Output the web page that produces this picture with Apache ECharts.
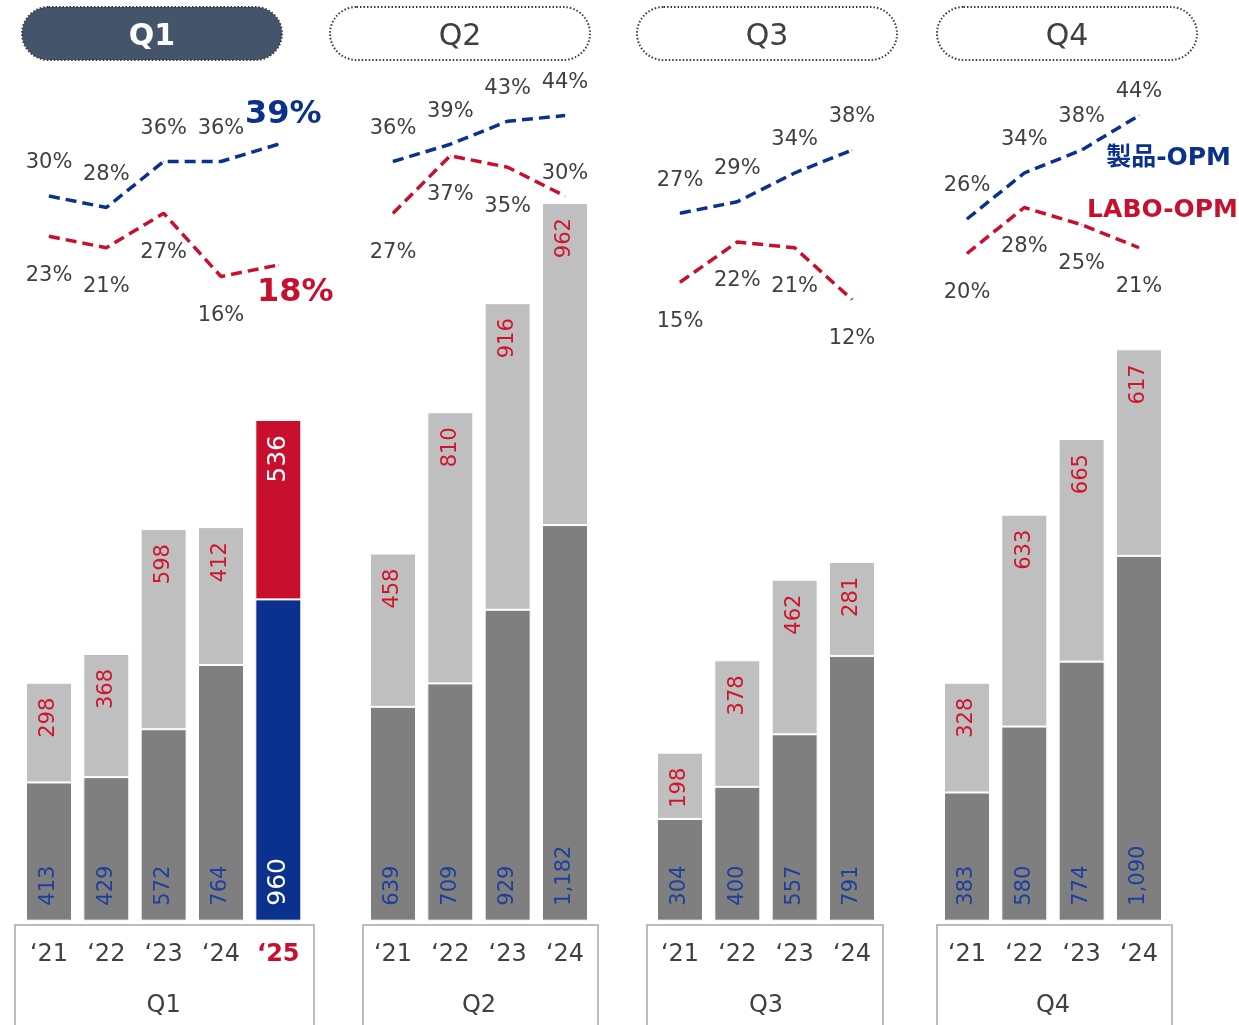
<!DOCTYPE html>
<html>
<head>
<meta charset="utf-8">
<script src="https://cdn.jsdelivr.net/npm/echarts@6/dist/echarts.min.js"></script>
<style>
html,body{margin:0;padding:0;background:#fff;}
#chart{width:1239px;height:1025px;}
</style>
</head>
<body>
<div id="chart"></div>
<script>
// ---------- data ----------
const quarters = ['Q1', 'Q2', 'Q3', 'Q4'];
const yearsQ1 = ['‘21', '‘22', '‘23', '‘24', '‘25'];
const yearsQ2 = ['‘21', '‘22', '‘23', '‘24'];
const yearsQ3 = ['‘21', '‘22', '‘23', '‘24'];
const yearsQ4 = ['‘21', '‘22', '‘23', '‘24'];
const highlightYear = '‘25';

const productQ1 = [413, 429, 572, 764, 960];
const productQ2 = [639, 709, 929, 1182];
const productQ3 = [304, 400, 557, 791];
const productQ4 = [383, 580, 774, 1090];

const laboQ1 = [298, 368, 598, 412, 536];
const laboQ2 = [458, 810, 916, 962];
const laboQ3 = [198, 378, 462, 281];
const laboQ4 = [328, 633, 665, 617];

const productOpmQ1 = [30, 28, 36, 36, 39];
const productOpmQ2 = [36, 39, 43, 44];
const productOpmQ3 = [27, 29, 34, 38];
const productOpmQ4 = [26, 34, 38, 44];

const laboOpmQ1 = [23, 21, 27, 16, 18];
const laboOpmQ2 = [27, 37, 35, 30];
const laboOpmQ3 = [15, 22, 21, 12];
const laboOpmQ4 = [20, 28, 25, 21];

const productName = '製品-OPM';
const laboName = 'LABO-OPM';

// ---------- layout / style ----------
const FONT = "'DejaVu Sans','Noto Sans CJK JP',sans-serif";
const C_DARK = '#7f7f7f', C_LIGHT = '#bfbfbf';
const C_BLUE = '#0b318f', C_RED = '#c8102e';
const C_BLUE_TXT = '#1d3f9e', C_RED_TXT = '#d0142c';
const C_TEXT = '#404040';
const slot = 57.33;
const panelLeft = [20.33, 364.33, 651.33, 938.33];
const boxX = [[15, 314], [363, 598], [647, 883], [937, 1172]];
const pillX = [21, 329, 636, 936];
const labelTweaks = {
  'Q4-p-3': { distance: 13 },
  'Q2-l-3': { position: 'top', distance: 11 }
};

const years = [yearsQ1, yearsQ2, yearsQ3, yearsQ4];
const product = [productQ1, productQ2, productQ3, productQ4];
const labo = [laboQ1, laboQ2, laboQ3, laboQ4];
const productOpm = [productOpmQ1, productOpmQ2, productOpmQ3, productOpmQ4];
const laboOpm = [laboOpmQ1, laboOpmQ2, laboOpmQ3, laboOpmQ4];

const grid = [], xAxis = [], yAxis = [], series = [], graphic = [];
const fmtNum = p => Number(p.value).toLocaleString('en-US');

quarters.forEach((q, i) => {
  const yrs = years[i];
  const w = slot * yrs.length;
  grid.push({ left: panelLeft[i], width: w, top: 117.4, bottom: 104.3, containLabel: false });
  grid.push({ left: panelLeft[i], width: w, top: 81, height: 287.5, containLabel: false });
  xAxis.push({
    type: 'category', gridIndex: 2 * i, data: yrs,
    axisLine: { show: false }, axisTick: { show: false },
    axisLabel: {
      interval: 0, margin: 22, fontSize: 24, fontFamily: FONT, color: C_TEXT,
      formatter: v => v === highlightYear ? '{hl|' + v + '}' : v,
      rich: { hl: { color: C_RED, fontWeight: 'bold', fontSize: 24, fontFamily: FONT } }
    },
    name: q, nameLocation: 'middle', nameGap: 73,
    nameTextStyle: { fontSize: 24, fontFamily: FONT, color: C_TEXT }
  });
  xAxis.push({ type: 'category', gridIndex: 2 * i + 1, data: yrs, show: false });
  yAxis.push({ type: 'value', gridIndex: 2 * i, min: 0, max: 2400, show: false });
  yAxis.push({ type: 'value', gridIndex: 2 * i + 1, min: 0, max: 50, show: false });

  const barLabelBase = { show: true, rotate: 90, fontSize: 21, fontFamily: FONT, verticalAlign: 'middle', formatter: fmtNum };
  series.push({
    type: 'bar', name: '製品', xAxisIndex: 2 * i, yAxisIndex: 2 * i, stack: 's' + i,
    barWidth: 46,
    itemStyle: { color: C_DARK, borderColor: '#fff', borderWidth: 1 },
    label: Object.assign({}, barLabelBase, { position: 'insideBottom', align: 'left', distance: 15, color: C_BLUE_TXT }),
    data: product[i].map((v, k) => yrs[k] === highlightYear
      ? { value: v, itemStyle: { color: C_BLUE }, label: { color: '#fff', fontSize: 25 } }
      : v)
  });
  series.push({
    type: 'bar', name: 'LABO', xAxisIndex: 2 * i, yAxisIndex: 2 * i, stack: 's' + i,
    barWidth: 46,
    itemStyle: { color: C_LIGHT, borderColor: '#fff', borderWidth: 1 },
    label: Object.assign({}, barLabelBase, { position: 'insideTop', align: 'right', distance: 15, color: C_RED_TXT }),
    data: labo[i].map((v, k) => yrs[k] === highlightYear
      ? { value: v, itemStyle: { color: C_RED }, label: { color: '#fff', fontSize: 25 } }
      : v)
  });

  const lineBase = (color) => ({
    type: 'line', xAxisIndex: 2 * i + 1, yAxisIndex: 2 * i + 1,
    symbol: 'circle', symbolSize: 1, showSymbol: true, z: 5,
    lineStyle: { color: color, width: 3.5, type: [11, 6], cap: 'butt' },
    itemStyle: { color: color }
  });
  series.push(Object.assign(lineBase(C_BLUE), {
    name: productName,
    label: { show: true, position: 'top', distance: 22, fontSize: 21, fontFamily: FONT, color: C_TEXT, formatter: '{c}%' },
    data: productOpm[i].map((v, k) => {
      if (yrs[k] === highlightYear) {
        return { value: v, label: { fontSize: 32, fontWeight: 'bold', color: C_BLUE, distance: 13, offset: [5, 0] } };
      }
      const t = labelTweaks[q + '-p-' + k];
      return t ? { value: v, label: t } : v;
    })
  }));
  series.push(Object.assign(lineBase(C_RED), {
    name: laboName,
    label: { show: true, position: 'bottom', distance: 28, fontSize: 21, fontFamily: FONT, color: C_TEXT, formatter: '{c}%' },
    data: laboOpm[i].map((v, k) => {
      if (yrs[k] === highlightYear) {
        return { value: v, label: { fontSize: 32, fontWeight: 'bold', color: C_RED, distance: 11, offset: [17, 0] } };
      }
      const t = labelTweaks[q + '-l-' + k];
      return t ? { value: v, label: t } : v;
    })
  }));

  graphic.push({
    type: 'polyline', silent: true,
    shape: { points: [[boxX[i][0], 1030], [boxX[i][0], 925], [boxX[i][1], 925], [boxX[i][1], 1030]] },
    style: { stroke: '#a6a6a6', lineWidth: 1.5, fill: null }
  });
  const active = i === 0;
  graphic.push({
    type: 'group', left: pillX[i], top: 6,
    children: [
      { type: 'rect', shape: { x: 0, y: 0, width: 260, height: 53, r: 26.5 },
        style: { fill: active ? '#44546a' : '#fff', stroke: '#3a3a3a', lineWidth: 2, lineDash: [1.5, 2] } },
      { type: 'text', x: 130, y: 30,
        style: { text: q, fill: active ? '#fff' : C_TEXT, font: (active ? 'bold ' : '') + '30px ' + FONT, align: 'center', verticalAlign: 'middle' } }
    ]
  });
});

graphic.push({ type: 'text', right: 8, top: 146,
  style: { text: productName, fill: C_BLUE, font: 'bold 25px ' + FONT } });
graphic.push({ type: 'text', right: 1, top: 198,
  style: { text: laboName, fill: C_RED, font: 'bold 25px ' + FONT } });

const chart = echarts.init(document.getElementById('chart'), null, { renderer: 'canvas' });
chart.setOption({
  animation: false,
  backgroundColor: '#fff',
  grid, xAxis, yAxis, series, graphic
});
</script>
</body>
</html>
